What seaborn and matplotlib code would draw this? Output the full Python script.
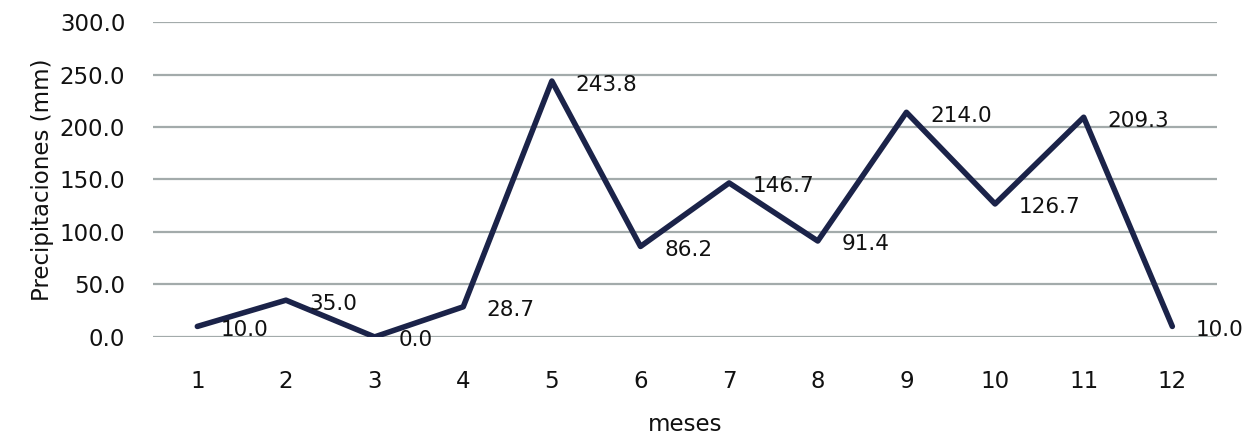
import matplotlib
matplotlib.use("Agg")
import matplotlib.pyplot as plt
import seaborn as sns
import pandas as pd

# datos mensuales
meses = [1, 2, 3, 4, 5, 6, 7, 8, 9, 10, 11, 12]
precipitaciones = [10.0, 35.0, 0.0, 28.7, 243.8, 86.2, 146.7, 91.4, 214.0, 126.7, 209.3, 10.0]
y_ticks = [0, 50, 100, 150, 200, 250, 300]

df = pd.DataFrame({"mes": meses, "pp": precipitaciones})

sns.set_style("white")
plt.rcParams['font.family'] = ['DejaVu Sans']

fig = plt.figure(figsize=(12.44, 4.41), dpi=100)
ax = fig.add_axes([0.123, 0.236, 0.855, 0.714])

line_color = "#1b2349"
sns.lineplot(data=df, x="mes", y="pp", ax=ax, color=line_color, linewidth=4)

# etiquetas de datos a la derecha de cada punto
for m, v in zip(meses, precipitaciones):
    ax.annotate(f"{v:.1f}", xy=(m, v), xytext=(17, -2.5), textcoords="offset points",
                ha="left", va="center", fontsize=15.5, color="#111111")

ax.set_xlim(0.5, 12.5)
ax.set_ylim(0, 300)
ax.set_xticks(meses)
ax.set_xticklabels([str(m) for m in meses])
ax.set_yticks(y_ticks)
ax.set_yticklabels([f"{t:.1f}" for t in y_ticks])
ax.grid(axis="y", color="#a3abab", linewidth=1.6)
ax.set_axisbelow(True)
for s in ax.spines.values():
    s.set_visible(False)
ax.tick_params(axis="both", length=0, labelsize=16.5, colors="#111111")
ax.tick_params(axis="y", pad=20)
ax.tick_params(axis="x", pad=24)

ax.set_xlabel("meses", fontsize=16.5, color="#111111", labelpad=14)
ax.set_ylabel("Precipitaciones (mm)", fontsize=16.5, color="#111111", labelpad=4)

fig.savefig("out.png", dpi=100)
